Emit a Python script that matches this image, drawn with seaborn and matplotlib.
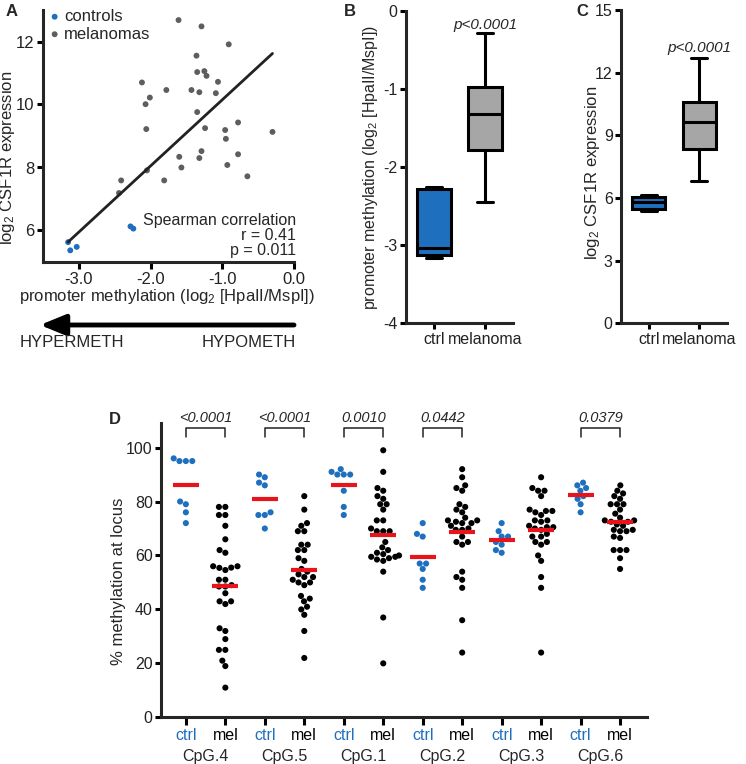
import numpy as np
import pandas as pd
import matplotlib
matplotlib.use('Agg')
import matplotlib.pyplot as plt
from matplotlib.patches import FancyArrowPatch
import seaborn as sns

# ---------------- data ----------------
# panel A: promoter methylation (x) vs log2 CSF1R expression (y)
ctrl_meth = [-3.15, -3.12, -3.03, -2.28, -2.24]
ctrl_expr = [5.63, 5.37, 5.48, 6.13, 6.06]
mel_meth = [-1.61, -1.29, -0.91, -1.36, -1.35, -1.25, -1.22, -1.06, -2.12, -1.78, -1.43,
            -1.32, -1.09, -2.01, -2.07, -1.35, -2.06, -1.24, -0.78, -0.96, -0.30, -0.95,
            -1.29, -0.78, -1.60, -1.32, -0.93, -1.57, -2.05, -0.65, -2.41, -1.81, -2.44]
mel_expr = [12.68, 12.48, 11.91, 11.55, 11.03, 11.06, 10.91, 10.72, 10.70, 10.46, 10.46,
            10.39, 10.36, 10.22, 10.01, 9.76, 9.22, 9.25, 9.43, 9.19, 9.13, 8.91,
            8.52, 8.42, 8.34, 8.30, 8.08, 8.00, 7.91, 7.72, 7.59, 7.59, 7.19]
# fitted trend line as drawn in the figure (slope, intercept)
fit_slope = 2.10
fit_intercept = 12.25

# panels B and C: box summaries (min, q1, median, q3, max)
box_groups = ['ctrl', 'melanoma']
meth_ctrl_box = [-3.16, -3.12, -3.04, -2.28, -2.25]
meth_mel_box = [-2.45, -1.78, -1.32, -0.98, -0.29]
expr_ctrl_box = [5.38, 5.46, 5.80, 6.06, 6.15]
expr_mel_box = [6.80, 8.36, 9.64, 10.59, 12.69]

# panel D: % methylation per CpG site
cpg_sites = ['CpG.4', 'CpG.5', 'CpG.1', 'CpG.2', 'CpG.3', 'CpG.6']
cpg4_ctrl = [96, 95, 95, 95, 80, 79, 76, 72]
cpg4_mel = [78, 78, 75, 75, 71, 66, 62, 61, 56, 55.5, 54.6, 55.4, 56, 51, 51, 49, 48.5,
            48.5, 46, 43, 42, 43, 33, 32, 29, 25, 25, 21, 19, 11]
cpg5_ctrl = [89, 90, 87, 86, 75, 75, 76, 70]
cpg5_mel = [82, 77, 71, 72, 69, 69, 64, 62, 62, 64, 58, 59, 55, 54, 53, 52, 52, 51, 50,
            50, 49, 44, 43, 45, 41, 40, 38, 32, 22]
cpg1_ctrl = [92, 90, 90, 90, 91, 84, 78, 75]
cpg1_mel = [99, 91, 84, 85, 81, 82, 79, 79, 77, 73, 73, 70, 69, 69, 69, 65, 63, 62, 61,
            59.5, 59, 59.5, 58.5, 58, 60.5, 60, 54, 37, 20]
cpg2_ctrl = [72, 67, 68, 57, 55, 57, 51, 48]
cpg2_mel = [92, 89, 86, 84, 85, 78, 79, 76, 77, 74, 73, 72, 72.5, 71, 70, 69.5, 65, 64,
            65, 67, 69.5, 72, 73, 54, 51, 52, 48, 36, 24]
cpg3_ctrl = [72, 69, 67, 67, 64, 65, 61, 62]
cpg3_mel = [89, 85, 84, 82, 84, 77, 76, 76.5, 76.5, 73, 72.5, 70.5, 69.5, 70.5, 70, 68,
            67, 67, 65, 64, 65, 60, 58, 52, 48, 24, 75, 73, 71]
cpg6_ctrl = [87, 85, 86, 84, 82, 81, 79, 76]
cpg6_mel = [86, 84, 82, 83, 81, 79, 79, 79, 77, 75.5, 73, 72.5, 72.5, 71.5, 69.5, 69,
            69.5, 69, 67, 66.5, 62, 62, 62, 59, 55, 74, 73, 71]
p_labels = {'CpG.4': '<0.0001', 'CpG.5': '<0.0001', 'CpG.1': '0.0010',
            'CpG.2': '0.0442', 'CpG.6': '0.0379'}

BLUE = '#1F6FBF'
GREY = '#A6A6A6'
DOT_GREY = '#5E5E5E'

sns.set_theme(style='ticks')
plt.rcParams['font.family'] = ['Liberation Sans', 'DejaVu Sans']
plt.rcParams['mathtext.fontset'] = 'custom'
plt.rcParams['mathtext.rm'] = 'Liberation Sans'
plt.rcParams['mathtext.it'] = 'Liberation Sans:italic'
plt.rcParams['axes.unicode_minus'] = False

W, H = 746, 764
fig = plt.figure(figsize=(W / 100, H / 100), dpi=100)


def rect(x0, y0, x1, y1):
    return [x0 / W, 1 - y1 / H, (x1 - x0) / W, (y1 - y0) / H]


def fx(px):
    return px / W


def fy(py):
    return 1 - py / H


def style_axis(ax, fs=11.5):
    sns.despine(ax=ax)
    for s in ['left', 'bottom']:
        ax.spines[s].set_linewidth(2.2)
    ax.tick_params(width=2.2, length=4, labelsize=fs, pad=2, color='black', labelcolor='#222222')


# ---------------- panel A ----------------
axA = fig.add_axes(rect(43, 10, 294, 262))
all_meth = np.array(ctrl_meth + mel_meth)
line_x = np.array([all_meth.min(), all_meth.max()])
sns.lineplot(x=line_x, y=fit_intercept + fit_slope * line_x, color='#222222', lw=2, ax=axA)
sns.scatterplot(x=mel_meth, y=mel_expr, color=DOT_GREY, s=18, edgecolor='none',
                label='melanomas', ax=axA)
sns.scatterplot(x=ctrl_meth, y=ctrl_expr, color=BLUE, s=18, edgecolor='none',
                label='controls', ax=axA)
axA.set_xlim(-3.5, 0)
axA.set_ylim(5, 13)
axA.set_xticks([-3, -2, -1, 0])
axA.set_xticklabels(['-3.0', '-2.0', '-1.0', '0.0'])
axA.set_yticks([6, 8, 10, 12])
style_axis(axA, 12)
axA.tick_params(axis='x', length=5, pad=2)
h, l = axA.get_legend_handles_labels()
axA.legend(h[::-1], l[::-1], loc='upper left', bbox_to_anchor=(-0.01, 1.03), frameon=False,
           handletextpad=0.1, handlelength=0.9, labelspacing=0.15, borderaxespad=0,
           fontsize=12)
fig.text(fx(296), fy(220), 'Spearman correlation', ha='right', va='center', fontsize=11.5)
fig.text(fx(296), fy(236), 'r = 0.41', ha='right', va='center', fontsize=11.5)
fig.text(fx(296), fy(251), 'p = 0.011', ha='right', va='center', fontsize=11.5)
fig.text(fx(8), fy(158), r'log$_2$ CSF1R expression', rotation=90, ha='center',
         va='center', fontsize=12)
fig.text(fx(167), fy(296), r'promoter methylation (log$_2$ [HpaII/MspI])', ha='center',
         va='center', fontsize=12)
fig.add_artist(FancyArrowPatch((fx(294), fy(325)), (fx(40), fy(325)),
                               transform=fig.transFigure,
                               arrowstyle='-|>,head_length=1.1,head_width=0.45',
                               mutation_scale=14, lw=3.5, color='black',
                               shrinkA=0, shrinkB=0))
fig.text(fx(20), fy(342), 'HYPERMETH', ha='left', va='center', fontsize=12)
fig.text(fx(296), fy(342), 'HYPOMETH', ha='right', va='center', fontsize=12)
fig.text(fx(12), fy(12), 'A', ha='center', va='center', fontsize=12, fontweight='bold')


# ---------------- panels B and C ----------------
def box_panel(ax, ctrl_box, mel_box):
    df = pd.DataFrame({'group': [box_groups[0]] * 5 + [box_groups[1]] * 5,
                       'value': ctrl_box + mel_box})
    sns.boxplot(data=df, x='group', y='value', hue='group', order=box_groups,
                palette=[BLUE, GREY], saturation=1, whis=(0, 100), width=0.65,
                linecolor='black', linewidth=2.2, legend=False, ax=ax)
    ax.set_xlabel('')
    ax.set_ylabel('')
    ax.set_xlim(-0.55, 1.55)
    style_axis(ax)


axB = fig.add_axes(rect(406, 10.7, 513, 323.3))
box_panel(axB, meth_ctrl_box, meth_mel_box)
axB.set_ylim(-4, 0)
axB.set_yticks([-4, -3, -2, -1, 0])
axB.text(1, -0.18, 'p<0.0001', ha='center', va='center', style='italic', fontsize=11)
fig.text(fx(371), fy(167), r'promoter methylation (log$_2$ [HpaII/MspI])', rotation=90,
         ha='center', va='center', fontsize=11.5)
fig.text(fx(350), fy(11), 'B', ha='center', va='center', fontsize=12, fontweight='bold')

axC = fig.add_axes(rect(621, 10, 727, 323.3))
box_panel(axC, expr_ctrl_box, expr_mel_box)
axC.set_ylim(0, 15)
axC.set_yticks([0, 3, 6, 9, 12, 15])
axC.text(1, 13.2, 'p<0.0001', ha='center', va='center', style='italic', fontsize=11)
fig.text(fx(592), fy(173), r'log$_2$ CSF1R expression', rotation=90, ha='center',
         va='center', fontsize=12)
fig.text(fx(582), fy(11), 'C', ha='center', va='center', fontsize=12, fontweight='bold')

# ---------------- panel D ----------------
site_data = {
    'CpG.4': (cpg4_ctrl, cpg4_mel), 'CpG.5': (cpg5_ctrl, cpg5_mel),
    'CpG.1': (cpg1_ctrl, cpg1_mel), 'CpG.2': (cpg2_ctrl, cpg2_mel),
    'CpG.3': (cpg3_ctrl, cpg3_mel), 'CpG.6': (cpg6_ctrl, cpg6_mel),
}
rows = []
for site in cpg_sites:
    for kind, vals in zip(['ctrl', 'mel'], site_data[site]):
        for v in vals:
            rows.append({'label': f'{site} {kind}', 'kind': kind, 'value': v})
dfD = pd.DataFrame(rows)
order = [f'{s} {k}' for s in cpg_sites for k in ('ctrl', 'mel')]

axD = fig.add_axes(rect(161, 423.3, 647.3, 717.3))
sns.swarmplot(data=dfD, x='label', y='value', hue='kind', order=order,
              palette={'ctrl': BLUE, 'mel': 'black'}, size=4.4, legend=False, ax=axD)
means = dfD.groupby('label')['value'].mean().reindex(order)
axD.hlines(means.values, np.arange(len(order)) - 0.33, np.arange(len(order)) + 0.33,
           color='#E8141B', lw=3, zorder=5)
axD.set_xlim(-0.63, 11.69)
axD.set_ylim(0, 109)
axD.set_yticks([0, 20, 40, 60, 80, 100])
axD.set_xlabel('')
axD.set_ylabel('')
style_axis(axD)
axD.tick_params(axis='x', length=6)
axD.set_xticks(range(len(order)))
axD.set_xticklabels([o.split()[1] for o in order])
for lab in axD.get_xticklabels():
    lab.set_color(BLUE if lab.get_text() == 'ctrl' else 'black')
for i, site in enumerate(cpg_sites):
    axD.text(2 * i + 0.5, -0.135, site, transform=axD.get_xaxis_transform(),
             ha='center', va='center', fontsize=11.5)
    if site in p_labels:
        x0, x1 = 2 * i, 2 * i + 1
        axD.plot([x0, x0, x1, x1], [103.8, 107.2, 107.2, 103.8], color='#222222',
                 lw=1.1, clip_on=False)
        axD.text(2 * i + 0.5, 108.2, p_labels[site], ha='center', va='bottom',
                 style='italic', fontsize=10.5)
fig.text(fx(118), fy(581), '% methylation at locus', rotation=90, ha='center',
         va='center', fontsize=12)
fig.text(fx(115), fy(420), 'D', ha='center', va='center', fontsize=12, fontweight='bold')

fig.savefig('out.png', dpi=100)
